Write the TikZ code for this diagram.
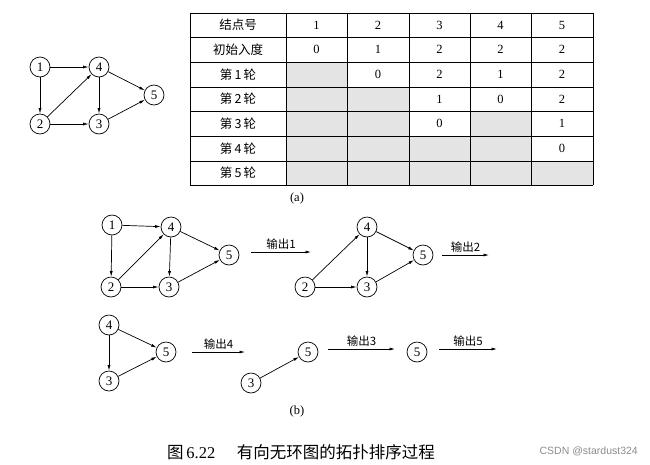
\documentclass[tikz,border=0pt]{standalone}
\usepackage{fontspec}
\setmainfont{Liberation Serif}
\setsansfont{Liberation Sans}
\newfontfamily\cjk{Noto Sans CJK SC}
\usetikzlibrary{arrows.meta, positioning}

\definecolor{cellgray}{RGB}{228,228,228}

\begin{document}
\begin{tikzpicture}[x=1pt, y=-1pt, >={Latex[length=5.5pt,width=3pt]},
    vtx/.style={circle, draw, line width=0.7pt, minimum size=20pt, inner sep=0pt, font=\fontsize{13}{13}\selectfont},
    edge/.style={->, line width=0.7pt},
    cell/.style={font=\fontsize{12.5}{14}\selectfont},
    outlabel/.style={above, font=\cjk\fontsize{11.5}{12}\selectfont, inner sep=2pt}]
    \useasboundingbox (0,0) rectangle (650,464);

    % 1. Đồ thị ban đầu
    \node[vtx] (a1) at (40,67) {1};
    \node[vtx] (a4) at (99,67) {4};
    \node[vtx] (a2) at (40,124) {2};
    \node[vtx] (a3) at (99,124) {3};
    \node[vtx] (a5) at (154,95) {5};
    \draw[edge] (a1) -- (a4);
    \draw[edge] (a1) -- (a2);
    \draw[edge] (a2) -- (a4);
    \draw[edge] (a2) -- (a3);
    \draw[edge] (a4) -- (a3);
    \draw[edge] (a4) -- (a5);
    \draw[edge] (a3) -- (a5);

    % 2. Bảng
    \foreach \c/\r in {1/3, 1/4, 2/4, 1/5, 2/5, 4/5, 1/6, 2/6, 3/6, 4/6, 1/7, 2/7, 3/7, 4/7, 5/7} {
        \pgfmathsetmacro{\xa}{{190,286,347,409,470,531,593}[\c]}
        \pgfmathsetmacro{\xb}{{190,286,347,409,470,531,593}[\c+1]}
        \pgfmathsetmacro{\ya}{{0,13,37,62,87,111,136,161,185}[\r]}
        \pgfmathsetmacro{\yb}{{0,13,37,62,87,111,136,161,185}[\r+1]}
        \fill[cellgray] (\xa,\ya) rectangle (\xb,\yb);
    }
    \foreach \y in {13,37,62,87,111,136,161,185} {
        \draw[line width=0.9pt] (190,\y) -- (593,\y);
    }
    \foreach \x in {190,286,347,409,470,531,593} {
        \draw[line width=0.9pt] (\x,13) -- (\x,185);
    }
    \foreach \t [count=\r] in {结点号, 初始入度, 第\,1\,轮, 第\,2\,轮, 第\,3\,轮, 第\,4\,轮, 第\,5\,轮} {
        \pgfmathsetmacro{\yc}{{0,25,49.5,74.5,99,123.5,148.5,173}[\r]}
        \node[cell, font=\cjk\fontsize{12.5}{14}\selectfont] (t-\r-0) at (238,\yc) {\t};
    }
    \foreach \r/\vals in {1/{1,2,3,4,5}, 2/{0,1,2,2,2}, 3/{,0,2,1,2}, 4/{,,1,0,2}, 5/{,,0,,1}, 6/{,,,,0}} {
        \pgfmathsetmacro{\yc}{{0,25,49.5,74.5,99,123.5,148.5,173}[\r]}
        \foreach \v [count=\c] in \vals {
            \pgfmathsetmacro{\xc}{{0,316.5,378,439.5,500.5,562}[\c]}
            \node[cell] (t-\r-\c) at (\xc,\yc) {\v};
        }
    }
    \node[cell] (capa) at (297,198) {(a)};

    % 3. Quá trình sắp xếp
    \node[vtx] (b1) at (112,225) {1};
    \node[vtx] (b4) at (171,227) {4};
    \node[vtx] (b2) at (111,287) {2};
    \node[vtx] (b3) at (169,287) {3};
    \node[vtx] (b5) at (229,255) {5};
    \draw[edge] (b1) -- (b4);
    \draw[edge] (b1) -- (b2);
    \draw[edge] (b2) -- (b4);
    \draw[edge] (b2) -- (b3);
    \draw[edge] (b4) -- (b3);
    \draw[edge] (b4) -- (b5);
    \draw[edge] (b3) -- (b5);
    \coordinate (o1s) at (251,252);
    \coordinate (o1e) at (311,252);
    \draw[edge] (o1s) -- node[outlabel] {输出1} (o1e);

    \node[vtx] (c4) at (367,227) {4};
    \node[vtx] (c2) at (305,287) {2};
    \node[vtx] (c3) at (367,287) {3};
    \node[vtx] (c5) at (423,255) {5};
    \draw[edge] (c2) -- (c4);
    \draw[edge] (c2) -- (c3);
    \draw[edge] (c4) -- (c3);
    \draw[edge] (c4) -- (c5);
    \draw[edge] (c3) -- (c5);
    \coordinate (o2s) at (442,255);
    \coordinate (o2e) at (489,255);
    \draw[edge] (o2s) -- node[outlabel] {输出2} (o2e);

    \node[vtx] (d4) at (109,325) {4};
    \node[vtx] (d3) at (109,381) {3};
    \node[vtx] (d5) at (166,352) {5};
    \draw[edge] (d4) -- (d3);
    \draw[edge] (d4) -- (d5);
    \draw[edge] (d3) -- (d5);
    \coordinate (o4s) at (192,352);
    \coordinate (o4e) at (245,352);
    \draw[edge] (o4s) -- node[outlabel] {输出4} (o4e);

    \node[vtx] (e3) at (251,383) {3};
    \node[vtx] (e5) at (308,352) {5};
    \draw[edge] (e3) -- (e5);
    \coordinate (o3s) at (328,349);
    \coordinate (o3e) at (395,349);
    \draw[edge] (o3s) -- node[outlabel] {输出3} (o3e);

    \node[vtx] (f5) at (417,352) {5};
    \coordinate (o5s) at (439,349);
    \coordinate (o5e) at (497,349);
    \draw[edge] (o5s) -- node[outlabel] {输出5} (o5e);

    \node[cell] (capb) at (297,411) {(b)};

    % 4. Chú thích
    \node[anchor=west, inner sep=0pt, font=\fontsize{16.5}{18}\selectfont] (fig) at (167,452) {{\cjk 图}\,6.22\hspace{1.3em}{\cjk 有向无环图的拓扑排序过程}};
    \node[anchor=east, inner sep=0pt, font=\sffamily\fontsize{10.5}{12}\selectfont, text=black!45] (mark) at (638,451) {CSDN @stardust324};
\end{tikzpicture}
\end{document}
